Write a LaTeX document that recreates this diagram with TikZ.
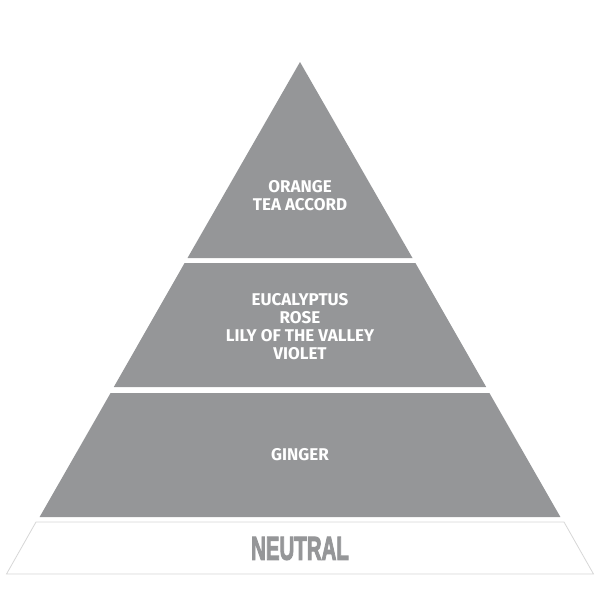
\documentclass[tikz,border=0pt]{standalone}
\usepackage{fontspec}
\newfontfamily\tierfont{Fira Sans}
\newfontfamily\neutfont[BoldFeatures={FakeBold=3.5},UprightFeatures={FakeBold=3.5}]{Liberation Sans}
\definecolor{tiergray}{RGB}{149,150,152}
\definecolor{edgegray}{RGB}{215,215,215}
\tikzset{
  tier/.style={fill=tiergray, draw=none},
  base/.style={fill=white, draw=edgegray, line width=0.8pt},
  tiertext/.style={text=white, font=\tierfont\bfseries\fontsize{17}{18}\selectfont, align=center, inner sep=0pt},
  neuttext/.style={text=tiergray, font=\neutfont\bfseries\fontsize{33}{34}\selectfont, inner sep=0pt}
}
\begin{document}
\begin{tikzpicture}[x=1pt,y=-1pt]
\useasboundingbox (0,0) rectangle (600,600);
% top triangle
\fill[tier] (300,62) -- (412.5,258) -- (187.5,258) -- cycle;
% middle tier
\fill[tier] (184.6,263) -- (415.4,263) -- (486.2,387) -- (113.8,387) -- cycle;
% lower tier
\fill[tier] (110.6,393) -- (489.4,393) -- (560.4,517) -- (39.6,517) -- cycle;
% base
\draw[base] (36,522) -- (564,522) -- (593.5,574) -- (6.5,574) -- cycle;
\node[tiertext] (top) at (300,196) {ORANGE\\TEA ACCORD};
\node[tiertext] (mid) at (300,327) {EUCALYPTUS\\ROSE\\LILY OF THE VALLEY\\VIOLET};
\node[tiertext] (low) at (300,455) {GINGER};
\node[neuttext] (neut) at (300,548.5) {\scalebox{0.62}[1]{NEUTRAL}};
\end{tikzpicture}
\end{document}
